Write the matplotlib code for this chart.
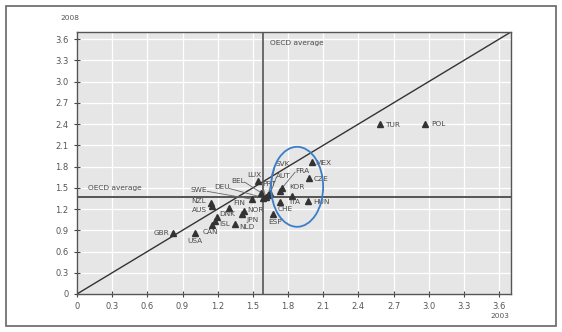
import matplotlib.pyplot as plt
import numpy as np
from matplotlib.patches import Ellipse, Rectangle

plt.rcParams['font.family'] = ['Liberation Sans Narrow', 'DejaVu Sans']

# values (x = 2003, y = 2008)
countries = ['GBR', 'USA', 'CAN', 'ISL', 'DNK', 'NLD', 'JPN', 'NOR', 'FIN', 'NZL', 'AUS',
             'SWE', 'DEU', 'BEL', 'LUX', 'PRT', 'SVK', 'AUT', 'FRA', 'KOR', 'ITA', 'CHE',
             'ESP', 'HUN', 'CZE', 'MEX', 'TUR', 'POL']
x_2003 = [0.82, 1.01, 1.15, 1.18, 1.19, 1.35, 1.41, 1.42, 1.30, 1.14, 1.15,
          1.49, 1.59, 1.57, 1.54, 1.61, 1.63, 1.65, 1.73, 1.75, 1.83, 1.73,
          1.67, 1.97, 1.98, 2.00, 2.58, 2.97]
y_2008 = [0.86, 0.86, 0.97, 1.03, 1.09, 0.99, 1.13, 1.17, 1.21, 1.28, 1.24,
          1.34, 1.36, 1.43, 1.59, 1.37, 1.40, 1.43, 1.46, 1.50, 1.39, 1.30,
          1.13, 1.31, 1.64, 1.87, 2.40, 2.40]
oecd_x = 1.59
oecd_y = 1.37
ticks = [0, 0.3, 0.6, 0.9, 1.2, 1.5, 1.8, 2.1, 2.4, 2.7, 3.0, 3.3, 3.6]
tick_labels = ['0', '0.3', '0.6', '0.9', '1.2', '1.5', '1.8', '2.1', '2.4', '2.7', '3.0', '3.3', '3.6']

# label placement: pixel offsets from the marker, alignment
offsets = {
    'GBR': (-4, 0, 'right'), 'USA': (0, -8, 'center'), 'CAN': (-9, -7, 'left'),
    'ISL': (4, -3, 'left'), 'DNK': (3, 3, 'left'), 'NLD': (4, -3, 'left'),
    'JPN': (4, -6, 'left'), 'NOR': (4, 1, 'left'), 'FIN': (4, 5, 'left'),
    'NZL': (-5, 2, 'right'), 'AUS': (-5, -4, 'right'), 'LUX': (-3, 6, 'center'),
    'KOR': (7, 1, 'left'), 'ITA': (-2, -6, 'left'), 'CHE': (-2, -7, 'left'),
    'ESP': (-5, -8, 'left'), 'HUN': (5, -1, 'left'), 'CZE': (4, -1, 'left'),
    'MEX': (4, -1, 'left'), 'TUR': (6, -1, 'left'), 'POL': (6, 0, 'left'),
}
# labels joined to their marker by a thin line (label position in data units)
leaders = {
    'SWE': (1.11, 1.47, 'right'), 'DEU': (1.30, 1.51, 'right'), 'BEL': (1.43, 1.60, 'right'),
    'PRT': (1.58, 1.56, 'left'), 'SVK': (1.69, 1.84, 'left'), 'AUT': (1.70, 1.67, 'left'),
    'FRA': (1.86, 1.74, 'left'),
}

txt = '#4a4a4a'
fs = 5.3
fig = plt.figure(figsize=(5.62, 3.32), dpi=100)
fig.patches.append(Rectangle((0.011, 0.018), 0.978, 0.964, transform=fig.transFigure,
                             fill=False, edgecolor='#666666', lw=1.2))
ax = fig.add_axes([0.137, 0.1145, 0.772, 0.789])
ax.set_facecolor('#e6e6e6')
ax.set_xlim(0, 3.7)
ax.set_ylim(0, 3.7)
ax.set_xticks(ticks)
ax.set_yticks(ticks)
ax.set_xticklabels(tick_labels)
ax.set_yticklabels(tick_labels)
ax.tick_params(direction='inout', length=4, width=0.8, color='#444444',
               labelsize=6, labelcolor='#555555', pad=4)
ax.grid(True, color='white', lw=0.9)
ax.set_axisbelow(True)
for s in ax.spines.values():
    s.set_color('#555555')
    s.set_linewidth(1.0)

ax.plot([0, 3.7], [0, 3.7], color='#333333', lw=1.0, zorder=2)
ax.axvline(oecd_x, color='#555555', lw=1.2, zorder=2)
ax.axhline(oecd_y, color='#555555', lw=1.4, zorder=2)
ax.text(oecd_x + 0.06, 3.54, 'OECD average', fontsize=fs, color=txt, va='center')
ax.text(0.09, oecd_y + 0.09, 'OECD average', fontsize=fs, color=txt, va='bottom')

ax.plot(x_2003, y_2008, linestyle='none', marker='^', markersize=3.8,
        color='#333333', zorder=3)

for c, xv, yv in zip(countries, x_2003, y_2008):
    if c in offsets:
        dx, dy, ha = offsets[c]
        ax.annotate(c, (xv, yv), xytext=(dx, dy), textcoords='offset pixels',
                    ha=ha, va='center', fontsize=fs, color=txt)
    else:
        lx, ly, ha = leaders[c]
        ax.text(lx, ly, c, ha=ha, va='center', fontsize=fs, color=txt)
        ax.plot([lx, xv], [ly - 0.02, yv], color='#666666', lw=0.6, zorder=2)

ax.add_patch(Ellipse((1.877, 1.514), 0.444, 1.13, fill=False, edgecolor='#3a7dc9',
                     lw=1.3, zorder=4))

fig.text(70 / 562, 1 - 18 / 332, '2008', fontsize=fs, color='#555555', ha='center', va='center')
fig.text(500 / 562, 1 - 316 / 332, '2003', fontsize=fs, color='#555555', ha='center', va='center')

fig.savefig('out.png', dpi=100)
